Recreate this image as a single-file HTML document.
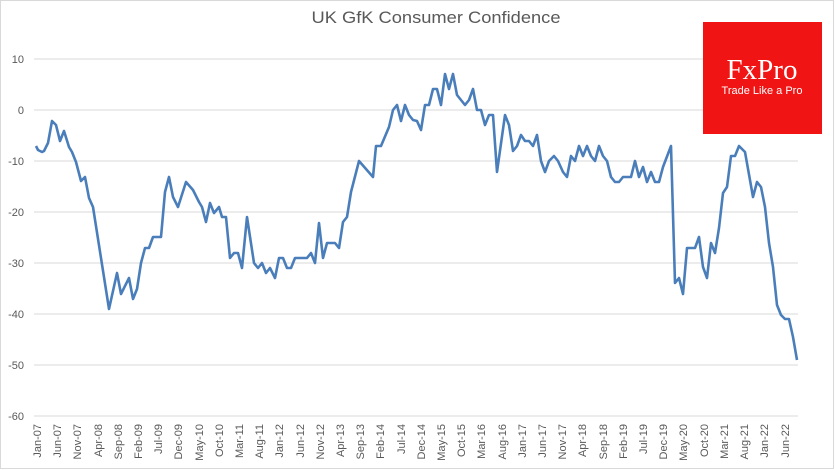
<!DOCTYPE html>
<html><head><meta charset="utf-8"><style>
html,body{margin:0;padding:0;background:#fff;}
svg{display:block;font-family:"Liberation Sans",sans-serif;}
</style></head><body>
<svg width="835" height="470" viewBox="0 0 835 470" xmlns="http://www.w3.org/2000/svg">
<rect x="0.5" y="0.5" width="833" height="468" fill="#fff" stroke="#d9d9d9"/>
<text x="436" y="23" text-anchor="middle" font-size="17" fill="#595959" textLength="249" lengthAdjust="spacingAndGlyphs">UK GfK Consumer Confidence</text>
<g stroke="#d9d9d9" stroke-width="1">
<line x1="34" y1="59" x2="798" y2="59"/>
<line x1="34" y1="110" x2="798" y2="110"/>
<line x1="34" y1="161" x2="798" y2="161"/>
<line x1="34" y1="212" x2="798" y2="212"/>
<line x1="34" y1="263" x2="798" y2="263"/>
<line x1="34" y1="314" x2="798" y2="314"/>
<line x1="34" y1="365" x2="798" y2="365"/>
<line x1="34" y1="416" x2="798" y2="416"/>
</g>
<g font-size="11" fill="#595959" text-anchor="end">
<text x="24" y="63">10</text><text x="24" y="114">0</text><text x="24" y="165">-10</text><text x="24" y="216">-20</text><text x="24" y="267">-30</text><text x="24" y="318">-40</text><text x="24" y="369">-50</text><text x="24" y="420">-60</text>
</g>
<g font-size="11" fill="#595959" text-anchor="end" id="xl"></g>
<rect x="703" y="22" width="119" height="112" fill="#f01414"/>
<text x="762" y="79" text-anchor="middle" font-family="Liberation Serif,serif" font-size="29" fill="#fff">FxPro</text>
<text x="762" y="94" text-anchor="middle" font-size="11" fill="#fff">Trade Like a Pro</text>
<polyline fill="none" stroke="#4a7ebb" stroke-width="2.6" stroke-linejoin="round" points="36,146 38,150 42,152 44,151 48,143 52,121 56,125 60,141 64,131 69,147 72,152 76,162 81,181 85,177 89,198 93,207 109,309 117,273 121,294 129,278 133,299 137,289 141,263 145,248 149,248 153,237 161,237 165,192 169,177 173,197 178,207 186,182 193,190 199,202 202,207 206,222 210,203 214,213 219,207 222,217 226,217 230,258 234,253 238,253 242,268 247,217 254,263 258,268 262,263 266,273 270,268 275,278 279,258 283,258 287,268 291,268 295,258 307,258 311,253 315,263 319,223 323,258 327,243 335,243 339,248 343,222 347,217 351,192 359,161 373,177 376,146 381,146 389,127 393,110 397,105 401,121 405,105 409,115 413,120 417,121 421,130 425,105 429,105 433,89 437,89 441,105 445,74 449,89 453,74 457,95 465,105 469,100 473,89 477,110 481,110 485,125 489,115 493,115 497,172 505,115 509,125 513,151 517,146 521,135 525,141 529,141 533,146 537,135 541,161 545,172 549,161 554,156 558,161 563,172 567,177 571,156 575,161 579,146 583,156 587,146 591,156 595,161 599,146 603,156 607,161 611,177 615,182 619,182 623,177 631,177 635,161 639,177 643,167 647,182 651,172 655,182 659,182 663,167 671,146 675,283 679,278 683,294 687,248 695,248 699,237 703,267 707,278 711,243 715,253 719,228 723,193 727,187 731,156 735,156 739,146 745,152 753,197 757,182 761,187 765,207 769,243 773,267 777,305 781,315 785,319 789,319 793,337 797,360"/>
<g font-size="11" fill="#595959" text-anchor="end">
<text transform="translate(41,424) rotate(-90)">Jan-07</text>
<text transform="translate(61,424) rotate(-90)">Jun-07</text>
<text transform="translate(81,424) rotate(-90)">Nov-07</text>
<text transform="translate(102,424) rotate(-90)">Apr-08</text>
<text transform="translate(122,424) rotate(-90)">Sep-08</text>
<text transform="translate(142,424) rotate(-90)">Feb-09</text>
<text transform="translate(162,424) rotate(-90)">Jul-09</text>
<text transform="translate(182,424) rotate(-90)">Dec-09</text>
<text transform="translate(203,424) rotate(-90)">May-10</text>
<text transform="translate(223,424) rotate(-90)">Oct-10</text>
<text transform="translate(243,424) rotate(-90)">Mar-11</text>
<text transform="translate(263,424) rotate(-90)">Aug-11</text>
<text transform="translate(283,424) rotate(-90)">Jan-12</text>
<text transform="translate(304,424) rotate(-90)">Jun-12</text>
<text transform="translate(324,424) rotate(-90)">Nov-12</text>
<text transform="translate(344,424) rotate(-90)">Apr-13</text>
<text transform="translate(364,424) rotate(-90)">Sep-13</text>
<text transform="translate(384,424) rotate(-90)">Feb-14</text>
<text transform="translate(405,424) rotate(-90)">Jul-14</text>
<text transform="translate(425,424) rotate(-90)">Dec-14</text>
<text transform="translate(445,424) rotate(-90)">May-15</text>
<text transform="translate(465,424) rotate(-90)">Oct-15</text>
<text transform="translate(485,424) rotate(-90)">Mar-16</text>
<text transform="translate(506,424) rotate(-90)">Aug-16</text>
<text transform="translate(526,424) rotate(-90)">Jan-17</text>
<text transform="translate(546,424) rotate(-90)">Jun-17</text>
<text transform="translate(566,424) rotate(-90)">Nov-17</text>
<text transform="translate(586,424) rotate(-90)">Apr-18</text>
<text transform="translate(607,424) rotate(-90)">Sep-18</text>
<text transform="translate(627,424) rotate(-90)">Feb-19</text>
<text transform="translate(647,424) rotate(-90)">Jul-19</text>
<text transform="translate(667,424) rotate(-90)">Dec-19</text>
<text transform="translate(687,424) rotate(-90)">May-20</text>
<text transform="translate(708,424) rotate(-90)">Oct-20</text>
<text transform="translate(728,424) rotate(-90)">Mar-21</text>
<text transform="translate(748,424) rotate(-90)">Aug-21</text>
<text transform="translate(768,424) rotate(-90)">Jan-22</text>
<text transform="translate(789,424) rotate(-90)">Jun-22</text>
</g>
</svg>
</body></html>
